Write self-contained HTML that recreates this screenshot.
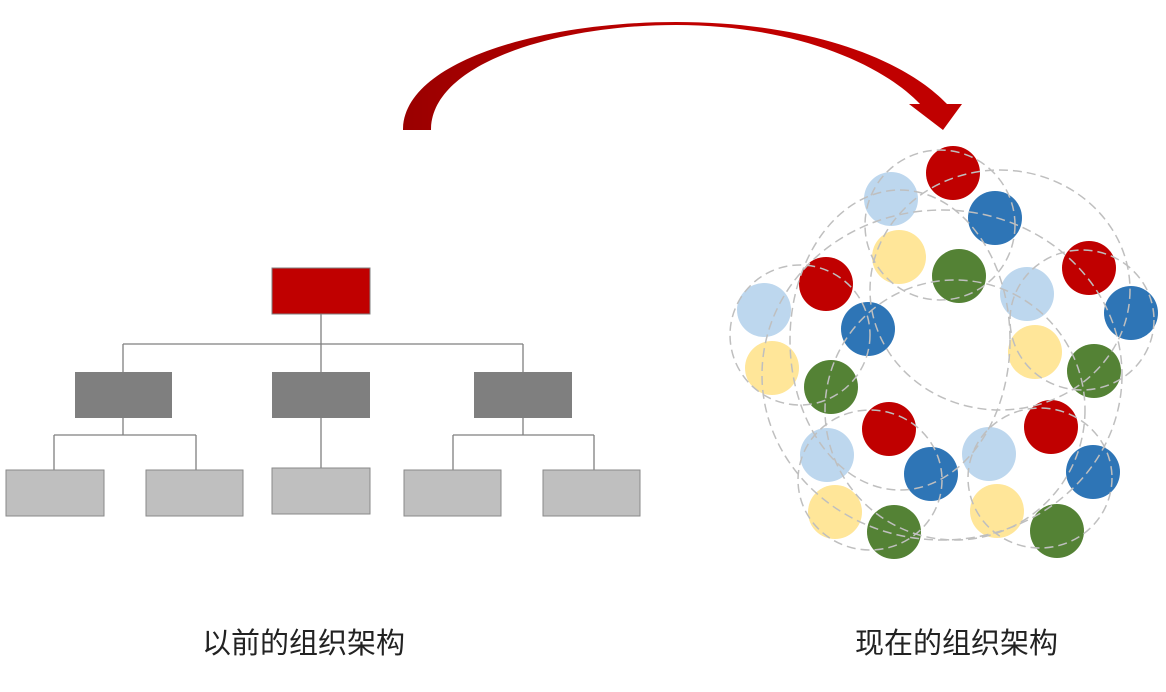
<!DOCTYPE html>
<html><head><meta charset="utf-8"><style>
body{margin:0;background:#fff;width:1166px;height:692px;overflow:hidden;position:relative;font-family:"Liberation Sans","Noto Sans CJK SC",sans-serif}
.lbl{position:absolute;font-size:29px;color:#222;top:620px;letter-spacing:0px}
</style></head><body>
<svg width="1166" height="692" style="position:absolute;left:0;top:0">
<defs><linearGradient id="g" x1="0" y1="0" x2="1" y2="0"><stop offset="0" stop-color="#9a0000"/><stop offset="0.5" stop-color="#c00000"/><stop offset="1" stop-color="#c00000"/></linearGradient></defs>
<path d="M403 130 C403 62 540 22 676 22 C800 22 900 55 947 104 L962 104 L943 130 L909 104 L920 104 C880 62 790 25 676 25 C560 25 431 62 431 130 Z" fill="url(#g)"/>
<g stroke="#7f7f7f" stroke-width="1.3" fill="none">
<path d="M321 314V372M123 344H523M123 344V372M523 344V372M123 418V435M54 435H196M54 435V470M196 435V470M321 418V468M523 418V435M453 435H594M453 435V470M594 435V470"/>
</g>
<rect x="272" y="268" width="98" height="46" fill="#c00000" stroke="#7f7f7f"/>
<g fill="#7f7f7f"><rect x="75" y="372" width="97" height="46"/><rect x="272" y="372" width="98" height="46"/><rect x="474" y="372" width="98" height="46"/></g>
<g fill="#bfbfbf" stroke="#8a8a8a"><rect x="6" y="470" width="98" height="46"/><rect x="146" y="470" width="97" height="46"/><rect x="272" y="468" width="98" height="46"/><rect x="404" y="470" width="97" height="46"/><rect x="543" y="470" width="97" height="46"/></g>
<g>
<circle cx="953" cy="173" r="27" fill="#c00000"/><circle cx="891" cy="199" r="27" fill="#bdd7ee"/><circle cx="995" cy="218" r="27" fill="#2e75b6"/><circle cx="899" cy="257" r="27" fill="#ffe699"/><circle cx="959" cy="276" r="27" fill="#548235"/>
<circle cx="826" cy="284" r="27" fill="#c00000"/><circle cx="764" cy="310" r="27" fill="#bdd7ee"/><circle cx="868" cy="329" r="27" fill="#2e75b6"/><circle cx="772" cy="368" r="27" fill="#ffe699"/><circle cx="831" cy="387" r="27" fill="#548235"/>
<circle cx="1089" cy="268" r="27" fill="#c00000"/><circle cx="1027" cy="294" r="27" fill="#bdd7ee"/><circle cx="1131" cy="313" r="27" fill="#2e75b6"/><circle cx="1035" cy="352" r="27" fill="#ffe699"/><circle cx="1094" cy="371" r="27" fill="#548235"/>
<circle cx="889" cy="429" r="27" fill="#c00000"/><circle cx="827" cy="455" r="27" fill="#bdd7ee"/><circle cx="931" cy="474" r="27" fill="#2e75b6"/><circle cx="835" cy="512" r="27" fill="#ffe699"/><circle cx="894" cy="532" r="27" fill="#548235"/>
<circle cx="1051" cy="427" r="27" fill="#c00000"/><circle cx="989" cy="454" r="27" fill="#bdd7ee"/><circle cx="1093" cy="472" r="27" fill="#2e75b6"/><circle cx="997" cy="511" r="27" fill="#ffe699"/><circle cx="1057" cy="531" r="27" fill="#548235"/>
</g>
<g fill="none" stroke="#bfbfbf" stroke-width="1.5" stroke-dasharray="9 5">
<ellipse cx="942" cy="375" rx="180" ry="165"/>
<ellipse cx="955" cy="410" rx="130" ry="130"/>
<ellipse cx="1000" cy="290" rx="130" ry="120"/>
<ellipse cx="900" cy="340" rx="110" ry="150"/>
<ellipse cx="940" cy="225" rx="75" ry="75"/>
<ellipse cx="800" cy="335" rx="70" ry="70"/>
<ellipse cx="1082" cy="320" rx="72" ry="70"/>
<ellipse cx="870" cy="480" rx="72" ry="70"/>
<ellipse cx="1040" cy="478" rx="72" ry="70"/>
</g>
</svg>
<div class="lbl" style="left:202px">以前的组织架构</div>
<div class="lbl" style="left:855px">现在的组织架构</div>
</body></html>
